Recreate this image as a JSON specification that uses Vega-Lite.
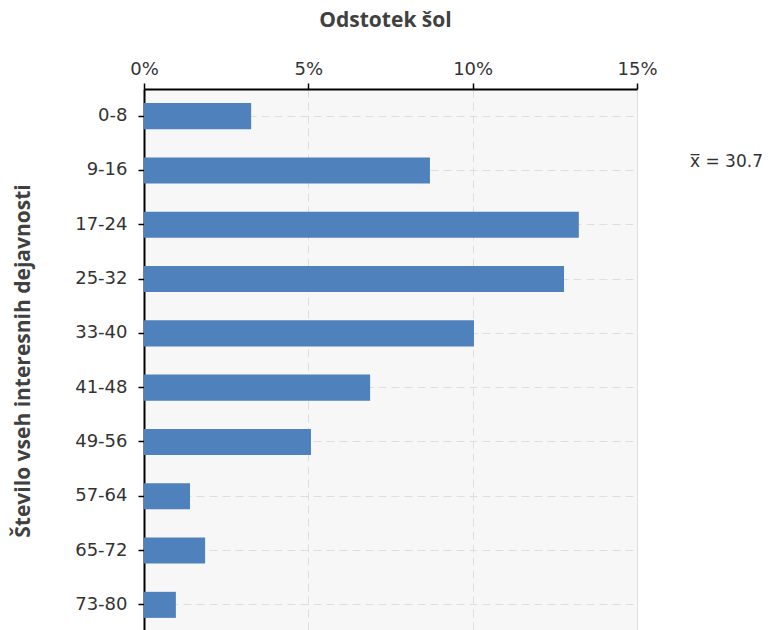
{
  "$schema": "https://vega.github.io/schema/vega-lite/v6.json",
  "autosize": "none",
  "width": 493,
  "height": 543,
  "padding": {"left": 144, "top": 89, "right": 134, "bottom": 0},
  "background": "white",
  "config": {
    "view": {"fill": "#f7f7f7", "stroke": "#e0e0e0", "strokeWidth": 1},
    "axis": {"labelFont": "DejaVu Sans", "labelFontSize": 18, "labelColor": "#333333", "titleFont": "Open Sans", "titleFontWeight": "bold", "titleFontSize": 21, "titleColor": "#404040"}
  },
  "datasets": {
    "bars": [
      {"skupina": "0-8", "odstotek": 3.26},
      {"skupina": "9-16", "odstotek": 8.70},
      {"skupina": "17-24", "odstotek": 13.23},
      {"skupina": "25-32", "odstotek": 12.78},
      {"skupina": "33-40", "odstotek": 10.04},
      {"skupina": "41-48", "odstotek": 6.88},
      {"skupina": "49-56", "odstotek": 5.08},
      {"skupina": "57-64", "odstotek": 1.40},
      {"skupina": "65-72", "odstotek": 1.86},
      {"skupina": "73-80", "odstotek": 0.97}
    ],
    "note": [
      {"label": "x̅ = 30.7", "odstotek": 15, "skupina": "9-16"}
    ]
  },
  "layer": [
    {
      "data": {"name": "bars"},
      "mark": {"type": "bar", "color": "#4f81bd"},
      "encoding": {
        "y": {
          "field": "skupina", "type": "nominal", "sort": null,
          "scale": {"paddingInner": 0.52, "paddingOuter": 0.26},
          "axis": {
            "title": "Število vseh interesnih dejavnosti",
            "titleX": -121, "titleBaseline": "middle",
            "domainColor": "#000000", "domainWidth": 2,
            "tickColor": "#000000", "tickSize": 6, "tickWidth": 1.5,
            "labelPadding": 11,
            "grid": true, "bandPosition": 0.5, "gridColor": "#dedede", "gridDash": [8, 5], "gridWidth": 1
          }
        },
        "x": {
          "field": "odstotek", "type": "quantitative",
          "scale": {"domain": [0, 15], "nice": false},
          "axis": {
            "orient": "top", "title": "Odstotek šol",
            "values": [0, 5, 10, 15],
            "labelExpr": "datum.value + '%'",
            "labelFlush": false,
            "titleX": 241, "titleY": -69, "titleBaseline": "middle",
            "domainColor": "#000000", "domainWidth": 2,
            "tickColor": "#000000", "tickSize": 6, "tickWidth": 1.5,
            "labelPadding": 5,
            "grid": true, "gridColor": "#dedede", "gridDash": [8, 5], "gridWidth": 1
          }
        }
      }
    },
    {
      "data": {"name": "note"},
      "mark": {"type": "text", "align": "left", "baseline": "middle", "dx": 53, "dy": -8, "font": "DejaVu Sans", "fontSize": 17, "color": "#333333"},
      "encoding": {
        "x": {"field": "odstotek", "type": "quantitative"},
        "y": {"field": "skupina", "type": "nominal", "sort": null},
        "text": {"field": "label"}
      }
    }
  ]
}
